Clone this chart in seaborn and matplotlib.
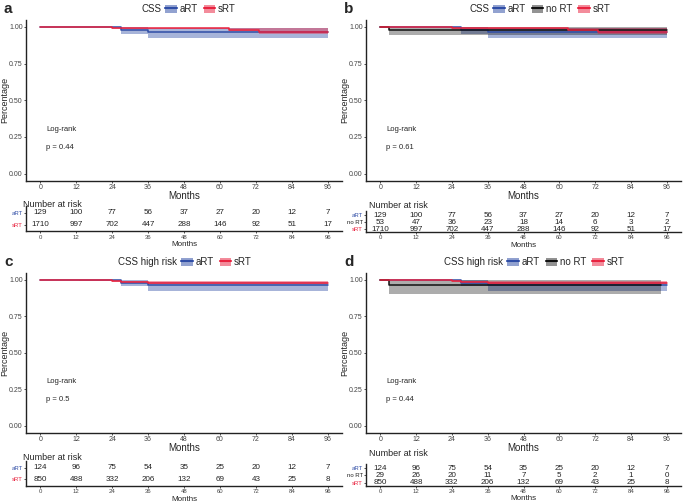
import numpy as np
import pandas as pd
import matplotlib
matplotlib.use("Agg")
import matplotlib.pyplot as plt
import seaborn as sns
from matplotlib.patches import Patch
from matplotlib.lines import Line2D

# ---- data ----
risk_times = [0, 12, 24, 36, 48, 60, 72, 84, 96]

# panels a/b (CSS)
art_t = [0, 27, 36, 96]
art_s = [1.0, 0.982, 0.966, 0.966]
art_lo = [1.0, 0.955, 0.926, 0.926]
art_hi = [1.0, 1.0, 0.99, 0.99]

srt_t = [0, 24, 27, 63, 73, 96]
srt_s = [1.0, 0.994, 0.99, 0.982, 0.968, 0.968]
srt_lo = [1.0, 0.988, 0.985, 0.975, 0.95, 0.95]
srt_hi = [1.0, 0.998, 0.996, 0.993, 0.99, 0.99]

nort_t = [0, 3, 96]
nort_s = [1.0, 0.977, 0.977]
nort_lo = [1.0, 0.945, 0.945]
nort_hi = [1.0, 1.0, 1.0]

# panels c/d (CSS high risk)
art_hr_t = [0, 27, 36, 96]
art_hr_s = [1.0, 0.98, 0.967, 0.967]
art_hr_lo = [1.0, 0.955, 0.92, 0.92]
art_hr_hi = [1.0, 1.0, 0.985, 0.985]

srt_hr_t = [0, 13, 24, 27, 36, 96]
srt_hr_s = [1.0, 0.997, 0.993, 0.988, 0.98, 0.98]
srt_hr_lo = [1.0, 0.993, 0.988, 0.982, 0.973, 0.973]
srt_hr_hi = [1.0, 1.0, 0.998, 0.995, 0.99, 0.99]

nort_hr_t = [0, 3, 94]
nort_hr_s = [1.0, 0.966, 0.966]
nort_hr_lo = [1.0, 0.90, 0.90]
nort_hr_hi = [1.0, 1.0, 1.0]

risk_art = [129, 100, 77, 56, 37, 27, 20, 12, 7]
risk_srt = [1710, 997, 702, 447, 288, 146, 92, 51, 17]
risk_nort = [53, 47, 36, 23, 18, 14, 6, 3, 2]
risk_art_hr = [124, 96, 75, 54, 35, 25, 20, 12, 7]
risk_srt_hr = [850, 488, 332, 206, 132, 69, 43, 25, 8]
risk_nort_hr = [29, 26, 20, 11, 7, 5, 2, 1, 0]

p_values = ["0.44", "0.61", "0.5", "0.44"]

colors = {"aRT": "#2F4DA6", "no RT": "#111111", "sRT": "#E8233F"}
band_alpha = {"aRT": 0.42, "no RT": 0.35, "sRT": 0.42}

W, H = 685, 503
sns.set_style("ticks")
plt.rcParams["font.family"] = ["Liberation Sans", "DejaVu Sans"]

fig = plt.figure(figsize=(W / 100, H / 100), dpi=100)


def box(x0, y0, x1, y1):
    return [x0 / W, 1 - y1 / H, (x1 - x0) / W, (y1 - y0) / H]


def curve(name, t, s, lo, hi):
    return pd.DataFrame({"group": name, "time": t, "surv": s, "lo": lo, "hi": hi})


def style_axis(ax):
    sns.despine(ax=ax)
    for sp in ["left", "bottom"]:
        ax.spines[sp].set_linewidth(1.0)
        ax.spines[sp].set_color("#222222")
    ax.tick_params(length=1.6, width=0.6, colors="#333333", labelcolor="#444444", pad=0.8)


def draw_panel(main_box, risk_box, curves, risk, groups, pval, row_ylim):
    ax = fig.add_axes(box(*main_box))
    for name in groups:
        d = curves[curves["group"] == name]
        ax.fill_between(d["time"], d["lo"], d["hi"], step="post",
                        color=colors[name], alpha=band_alpha[name], lw=0)
    for name in groups:
        d = curves[curves["group"] == name]
        sns.lineplot(data=d, x="time", y="surv", drawstyle="steps-post",
                     color=colors[name], lw=1.1, ax=ax, legend=False)
    ax.set_xlim(-4.8, 100.8)
    ax.set_ylim(-0.05, 1.05)
    ax.set_xticks(risk_times)
    ax.set_yticks([0, 0.25, 0.5, 0.75, 1.0])
    ax.set_yticklabels(["0.00", "0.25", "0.50", "0.75", "1.00"])
    ax.tick_params(labelsize=5)
    ax.set_xlabel("Months", fontsize=7, labelpad=0)
    ax.set_ylabel("Percentage", fontsize=6.5)
    ax.yaxis.set_label_coords(-0.054, 0.5)
    ax.text(2, 0.3, "Log-rank", fontsize=5.5, va="center")
    ax.text(2, 0.18, f"p = {pval}", fontsize=5.5, va="center")
    style_axis(ax)

    rx = fig.add_axes(box(*risk_box))
    n = len(groups)
    for i, name in enumerate(groups):
        yrow = n - i
        for tt, v in zip(risk_times, risk[name]):
            rx.text(tt, yrow, str(v), ha="center", va="center", fontsize=5.8,
                    color="#222222")
    rx.set_xlim(-4.8, 100.8)
    rx.set_ylim(*row_ylim)
    rx.set_xticks(risk_times)
    rx.set_yticks([n - i for i in range(n)])
    rx.set_yticklabels(groups)
    rx.set_xlabel("Months", fontsize=5.8, labelpad=1)
    style_axis(rx)
    rx.tick_params(labelsize=4.3, length=1.5)
    for lab, name in zip(rx.get_yticklabels(), groups):
        lab.set_color(colors[name] if name != "no RT" else "#222222")
    return ax, rx


def legend(title, groups, x_title, y):
    fig.text(x_title / W, 1 - y / H, title, ha="right", va="center", fontsize=7)
    handles = [(Patch(facecolor=colors[g], alpha=band_alpha[g] + 0.1, lw=0),
                Line2D([], [], color=colors[g], lw=1.5)) for g in groups]
    fig.legend(handles, groups, loc="center left",
               bbox_to_anchor=((x_title + 4) / W, 1 - y / H), ncol=len(groups),
               frameon=False, fontsize=7, handlelength=1.2, handleheight=0.9,
               handletextpad=0.3, columnspacing=0.6, borderpad=0, borderaxespad=0)


curves_a = pd.concat([curve("aRT", art_t, art_s, art_lo, art_hi),
                      curve("sRT", srt_t, srt_s, srt_lo, srt_hi)])
curves_b = pd.concat([curves_a, curve("no RT", nort_t, nort_s, nort_lo, nort_hi)])
curves_c = pd.concat([curve("aRT", art_hr_t, art_hr_s, art_hr_lo, art_hr_hi),
                      curve("sRT", srt_hr_t, srt_hr_s, srt_hr_lo, srt_hr_hi)])
curves_d = pd.concat([curves_c, curve("no RT", nort_hr_t, nort_hr_s, nort_hr_lo, nort_hr_hi)])

risk_ab = {"aRT": risk_art, "sRT": risk_srt, "no RT": risk_nort}
risk_cd = {"aRT": risk_art_hr, "sRT": risk_srt_hr, "no RT": risk_nort_hr}

two = ["aRT", "sRT"]
three = ["aRT", "no RT", "sRT"]

# panel a
draw_panel((26, 19.6, 342, 181), (26, 206, 342, 231.5), curves_a, risk_ab, two,
           p_values[0], (0.4, 2.6))
# panel b
draw_panel((366, 19.6, 681, 181), (366, 211, 681, 232), curves_b, risk_ab, three,
           p_values[1], (0.6, 3.6))
# panel c
draw_panel((26, 272.5, 342, 433), (26, 461, 342, 486), curves_c, risk_cd, two,
           p_values[2], (0.4, 2.6))
# panel d
draw_panel((366, 272.5, 681, 433), (366, 464, 681, 485.5), curves_d, risk_cd, three,
           p_values[3], (0.6, 3.6))

fig.text(23 / W, 1 - 204 / H, "Number at risk", fontsize=6.5, va="center")
fig.text(369 / W, 1 - 205 / H, "Number at risk", fontsize=6.5, va="center")
fig.text(23 / W, 1 - 457 / H, "Number at risk", fontsize=6.5, va="center")
fig.text(369 / W, 1 - 453 / H, "Number at risk", fontsize=6.5, va="center")

for letter, x, y in [("a", 4, 9), ("b", 344, 9), ("c", 4, 262), ("d", 344, 262)]:
    fig.text(x / W, 1 - y / H, letter, fontsize=11, fontweight="bold", va="center")

legend("CSS", two, 161, 9)
legend("CSS", three, 489, 9)
legend("CSS high risk", two, 177, 262)
legend("CSS high risk", three, 503, 262)

fig.savefig("out.png", dpi=100)
